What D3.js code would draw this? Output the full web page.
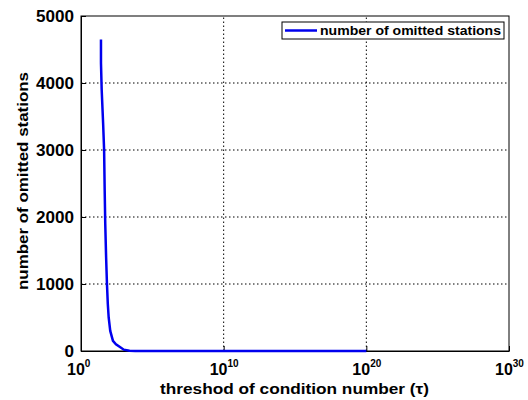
<!DOCTYPE html>
<html>
<head>
<meta charset="utf-8">
<script src="https://cdn.jsdelivr.net/npm/d3@7"></script>
<style>
  body { margin: 0; background: #fff; }
  text { font-family: "Liberation Sans", Arial, sans-serif; font-weight: bold; }
</style>
</head>
<body>
<div id="chart"></div>
<script>
// threshold exponents (log10 tau) and number of omitted stations
var tauExp = [1.40, 1.40, 1.45, 1.55, 1.62, 1.66, 1.70, 1.76, 1.82, 1.88, 1.94, 2.05, 2.24, 2.45, 2.73, 3.0, 3.4, 3.8, 20];
var omitted = [4650, 4300, 3900, 3400, 3000, 2400, 1900, 1400, 1000, 700, 500, 300, 150, 100, 60, 20, 5, 0, 0];
var yTicks = [0, 1000, 2000, 3000, 4000, 5000];
var xTickExp = [0, 10, 20, 30];
var legendLabel = "number of omitted stations";

var w = 528, h = 400;
var margin = {left: 81, right: 19, top: 16, bottom: 49};

var svg = d3.select("#chart").append("svg")
    .attr("width", w)
    .attr("height", h);

var x = d3.scaleLinear().domain([0, 30]).range([margin.left, w - margin.right]);
var y = d3.scaleLinear().domain([0, 5000]).range([h - margin.bottom, margin.top]);

// grid
svg.append("g").selectAll("line.gy")
    .data(yTicks.slice(1, -1))
    .enter().append("line")
    .attr("x1", x(0)).attr("x2", x(30))
    .attr("y1", function (d) { return y(d); }).attr("y2", function (d) { return y(d); })
    .attr("stroke", "#000").attr("stroke-width", 1).attr("stroke-dasharray", "1.5,2.5");
svg.append("g").selectAll("line.gx")
    .data(xTickExp.slice(1, -1))
    .enter().append("line")
    .attr("x1", function (d) { return x(d); }).attr("x2", function (d) { return x(d); })
    .attr("y1", y(0)).attr("y2", y(5000))
    .attr("stroke", "#000").attr("stroke-width", 1).attr("stroke-dasharray", "1.5,2.5");

// axes (ticks inside like matlab)
var yAxis = d3.axisLeft(y).tickValues(yTicks).tickSizeInner(-5).tickSizeOuter(0)
    .tickPadding(7).tickFormat(d3.format("d"));
var gy = svg.append("g").attr("transform", "translate(" + margin.left + ",0)").call(yAxis);
gy.selectAll("text")
    .style("font-size", "16px").attr("fill", "#000")
    .attr("textLength", function (d) { return d === 0 ? 9.5 : 38; })
    .attr("lengthAdjust", "spacingAndGlyphs");

var xAxis = d3.axisBottom(x).tickValues(xTickExp).tickSizeInner(-5).tickSizeOuter(0).tickFormat("");
var gx = svg.append("g").attr("transform", "translate(0," + y(0) + ")").call(xAxis);
gx.selectAll("line, path").attr("stroke", "#000");
gy.selectAll("line, path").attr("stroke", "#000");

// x tick labels 10^n
var xl = svg.append("g").selectAll("text.xl")
    .data(xTickExp)
    .enter().append("text")
    .attr("x", function (d) { return x(d) - 14; })
    .attr("y", 375)
    .style("font-size", "16px");
xl.append("tspan").text("10");
xl.append("tspan").attr("dy", -8).style("font-size", "10px").text(function (d) { return d; });

// frame
svg.append("rect")
    .attr("x", x(0)).attr("y", y(5000))
    .attr("width", x(30) - x(0)).attr("height", y(0) - y(5000))
    .attr("fill", "none").attr("stroke", "#000").attr("stroke-width", 1);

// the curve
var line = d3.line()
    .x(function (d, i) { return x(tauExp[i]); })
    .y(function (d) { return y(d); });
svg.append("path")
    .datum(omitted)
    .attr("d", line)
    .attr("fill", "none")
    .attr("stroke", "#0000ee")
    .attr("stroke-width", 2.5);

// legend
var lg = svg.append("g").attr("transform", "translate(282,22)");
lg.append("rect").attr("width", 222).attr("height", 17)
    .attr("fill", "#fff").attr("stroke", "#000").attr("stroke-width", 1);
lg.append("line").attr("x1", 3).attr("x2", 35).attr("y1", 8.5).attr("y2", 8.5)
    .attr("stroke", "#0000ee").attr("stroke-width", 2.5);
lg.append("text").attr("x", 38).attr("y", 13).style("font-size", "12px")
    .attr("textLength", 181).attr("lengthAdjust", "spacingAndGlyphs")
    .text(legendLabel);

// axis labels
svg.append("text")
    .attr("x", 160).attr("y", 394)
    .style("font-size", "15px")
    .attr("textLength", 269).attr("lengthAdjust", "spacingAndGlyphs")
    .text("threshod of condition number (τ)");
svg.append("text")
    .attr("transform", "translate(28,290) rotate(-90)")
    .style("font-size", "15px")
    .attr("textLength", 218).attr("lengthAdjust", "spacingAndGlyphs")
    .text("number of omitted stations");
</script>
</body>
</html>
